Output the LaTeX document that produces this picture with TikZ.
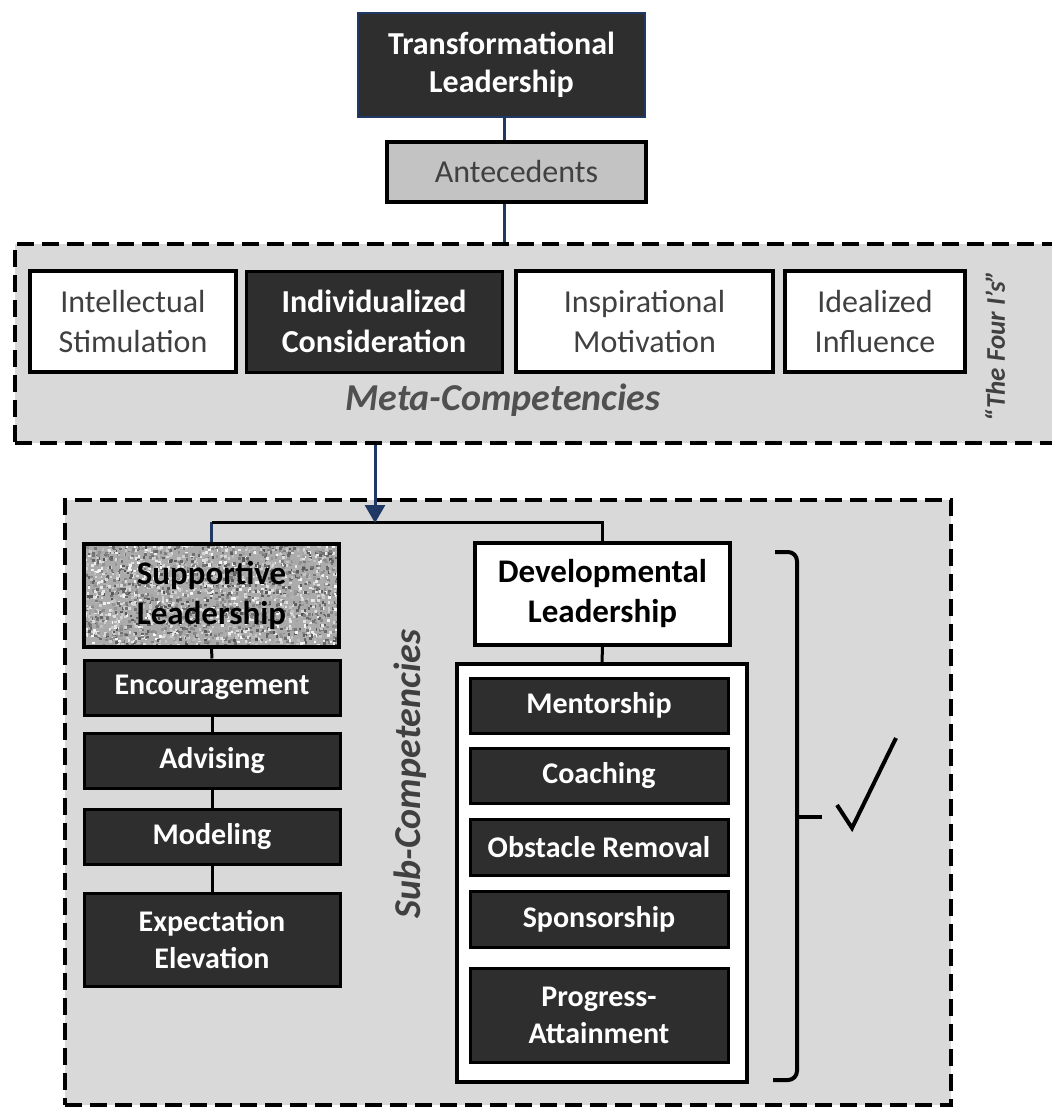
\documentclass[tikz,border=0pt]{standalone}
\usepackage{fontspec}
\setmainfont{Carlito}
\usetikzlibrary{arrows.meta}
\definecolor{navy}{RGB}{31,56,100}
\definecolor{panel}{RGB}{217,217,217}
\definecolor{ink}{RGB}{46,46,46}
\definecolor{softtext}{RGB}{64,64,64}
\definecolor{labeltext}{RGB}{80,80,80}
\definecolor{antfill}{RGB}{195,195,195}

\begin{document}
\begin{tikzpicture}[x=1pt,y=-1pt,
  frame/.style={draw=black, line width=4.5pt, dash pattern=on 17pt off 8pt, fill=panel, inner sep=0pt},
  darkbox/.style={draw=black, line width=3pt, fill=ink, text=white, align=center, inner sep=0pt,
    font=\fontsize{30}{37}\selectfont\bfseries},
  lightbox/.style={draw=black, line width=3.5pt, fill=white, text=softtext, align=center, inner sep=0pt,
    font=\fontsize{32}{40}\selectfont},
  headbox/.style={draw=black, line width=3.5pt, text=black, align=center, inner sep=0pt,
    font=\fontsize{33}{40}\selectfont\bfseries},
  grouplabel/.style={text=labeltext, font=\fontsize{38}{44}\selectfont\bfseries\itshape, inner sep=0pt},
  link/.style={line width=3pt, draw=black},
  navylink/.style={line width=3pt, draw=navy},
]
\useasboundingbox (0,0) rectangle (1052,1109);
\clip (0,0) rectangle (1052,1109);
\fill[white] (0,0) rectangle (1052,1109);

% ---------- top of the hierarchy ----------
\node[draw=navy, line width=2.5pt, fill=ink, text=white, align=center, inner sep=0pt,
      font=\fontsize{32}{38}\selectfont\bfseries,
      minimum width=287pt, minimum height=104pt] (tl) at (501.5,65) {Transformational\\Leadership};
\node[draw=black, line width=3.5pt, fill=antfill, text=softtext, inner sep=0pt,
      font=\fontsize{32}{38}\selectfont,
      minimum width=259pt, minimum height=60pt] (ant) at (516.5,172) {Antecedents};

% ---------- meta-competencies panel ----------
\node[frame, minimum width=1060pt, minimum height=199pt] (meta) at (545,343.5) {};
\coordinate (spine) at (504,0);
\draw[navylink] (tl.south -| spine) -- (ant.north -| spine);
\draw[navylink] (ant.south -| spine) -- (meta.north -| spine);

\node[lightbox, minimum width=206pt, minimum height=101pt] (is) at (133,321.5) {Intellectual\\Stimulation};
\node[darkbox, font=\fontsize{32}{40}\selectfont\bfseries,
      minimum width=256pt, minimum height=101pt] (ic) at (374,321.5) {Individualized\\Consideration};
\node[lightbox, minimum width=257pt, minimum height=101pt] (im) at (644.5,321.5) {Inspirational\\Motivation};
\node[lightbox, minimum width=180pt, minimum height=101pt] (ii) at (875,321.5) {Idealized\\Influence};
\node[grouplabel] (metalabel) at (503,400) {Meta-Competencies};
\node[text=softtext, font=\fontsize{27}{32}\selectfont\bfseries\itshape, inner sep=0pt, rotate=90]
      (fouri) at (995,346) {“The Four I’s”};

% ---------- sub-competencies panel ----------
\node[frame, minimum width=886pt, minimum height=605pt] (sub) at (508,802.5) {};

% speckled fill of the supportive-leadership box
\begin{scope}
  \clip (84,544) rectangle (339,647);
  \fill[black!33] (84,544) rectangle (339,647);
  \pgfmathsetseed{11}
  \foreach \k in {1,...,2600}{
    \pgfmathsetmacro{\px}{84+255*rnd}
    \pgfmathsetmacro{\py}{544+103*rnd}
    \pgfmathsetmacro{\sh}{int(3+65*rnd)}
    \fill[black!\sh] (\px,\py) rectangle ++(2.6,2.6);
  }
\end{scope}
\node[headbox, minimum width=255pt, minimum height=103pt] (sup) at (211.5,595.5) {Supportive\\Leadership};
\node[headbox, fill=white, minimum width=255pt, minimum height=102pt] (dev) at (602.5,594) {Developmental\\Leadership};

% branch from the meta panel to both leadership styles
\coordinate (junction) at (375,522);
\draw[navylink] (sup.north) -- (sup.north |- junction);
\draw[link] (sup.north |- junction) -| (dev.north);
\draw[navylink, -{Triangle[length=18pt,width=20pt]}] (meta.south -| junction) -- ([yshift=-1pt]junction);

% supportive chain
\node[darkbox, minimum width=256pt, minimum height=55pt] (enc) at (212,687.5) {Encouragement};
\node[darkbox, minimum width=256pt, minimum height=55pt] (adv) at (212,760.5) {Advising};
\node[darkbox, minimum width=256pt, minimum height=55pt] (mod) at (212,836.5) {Modeling};
\node[darkbox, minimum width=256pt, minimum height=93pt] (exp) at (212,939.5) {Expectation\\Elevation};
\draw[link] (sup.south) -- (enc.north);
\draw[link] (enc.south) -- (adv.north);
\draw[link] (adv.south) -- (mod.north);
\draw[link] (mod.south) -- (exp.north);

\node[grouplabel, text=softtext, rotate=90] (sublabel) at (410,774) {Sub-Competencies};

% developmental group
\node[draw=black, line width=3.5pt, fill=white, inner sep=0pt,
      minimum width=290pt, minimum height=418pt] (devgroup) at (602,873) {};
\draw[link] (dev.south) -- (devgroup.north);
\node[darkbox, minimum width=258pt, minimum height=55pt] (men) at (599,705.5) {Mentorship};
\node[darkbox, minimum width=258pt, minimum height=55pt] (coa) at (599,775.5) {Coaching};
\node[darkbox, minimum width=258pt, minimum height=56pt] (obs) at (599,847) {Obstacle Removal};
\node[darkbox, minimum width=258pt, minimum height=56pt] (spo) at (599,919) {Sponsorship};
\node[darkbox, minimum width=258pt, minimum height=94pt] (pro) at (599,1015) {Progress-\\Attainment};

% bracket and check mark
\draw[line width=4pt, rounded corners=9pt] (775,552) -| (797,1080) -- (773,1080);
\coordinate (tick) at (797,817);
\draw[line width=4pt] (tick) -- ++(25,0);
\draw[line width=4pt, line join=miter] (837,805) -- (852,828) -- (896,738);
\end{tikzpicture}
\end{document}
